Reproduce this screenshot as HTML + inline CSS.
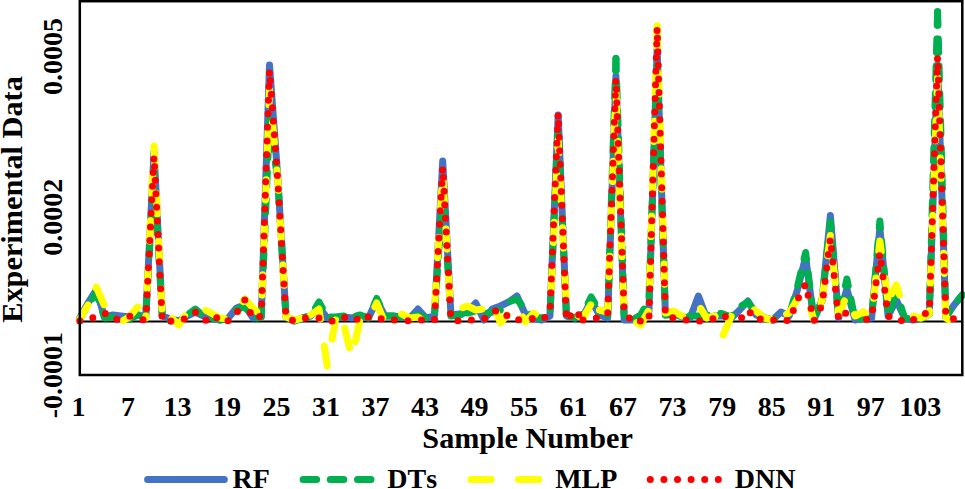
<!DOCTYPE html>
<html><head><meta charset="utf-8"><style>
html,body{margin:0;padding:0;background:#fff;}
svg{display:block;}
text{font-family:"Liberation Serif",serif;font-weight:bold;fill:#000;font-kerning:none;}
</style></head><body>
<svg width="965" height="489" viewBox="0 0 965 489">
<rect x="0" y="0" width="965" height="489" fill="#fff"/>
<line x1="79.8" y1="321.5" x2="962.3" y2="321.5" stroke="#000" stroke-width="2.2"/>
<polyline points="79.80,318.00 88.05,303.00 96.30,290.00 104.54,317.00 112.79,315.00 121.04,316.00 129.29,317.00 137.54,315.00 145.78,317.00 154.03,152.00 162.28,316.00 170.53,319.00 178.78,321.00 187.02,316.00 195.27,312.00 203.52,316.00 211.77,318.00 220.02,320.00 228.26,318.00 236.51,308.00 244.76,305.00 253.01,318.00 261.26,317.00 269.50,65.00 277.75,177.00 286.00,317.00 294.25,321.00 302.50,318.00 310.74,316.00 318.99,307.00 327.24,318.00 335.49,318.00 343.74,317.00 351.98,318.00 360.23,316.00 368.48,318.00 376.73,300.00 384.98,316.00 393.22,316.00 401.47,317.00 409.72,318.00 417.97,309.00 426.22,318.00 434.46,316.00 442.71,161.00 450.96,315.00 459.21,314.00 467.46,312.00 475.70,303.00 483.95,320.00 492.20,309.00 500.45,306.00 508.70,302.00 516.94,296.00 525.19,314.00 533.44,318.00 541.69,320.00 549.94,316.00 558.18,115.00 566.43,316.00 574.68,318.00 582.93,317.00 591.18,300.00 599.42,315.00 607.67,318.00 615.92,76.00 624.17,320.00 632.42,320.00 640.66,318.00 648.91,312.00 657.16,48.00 665.41,315.00 673.66,314.00 681.90,317.00 690.15,318.00 698.40,296.00 706.65,318.00 714.90,316.00 723.14,316.00 731.39,318.00 739.64,310.00 747.89,301.00 756.14,315.00 764.38,318.00 772.63,320.00 780.88,312.00 789.13,316.00 797.38,290.00 805.62,257.00 813.87,320.00 822.12,300.00 830.37,215.50 838.62,318.00 846.86,289.00 855.11,320.00 863.36,318.00 871.61,318.00 879.86,228.00 888.10,316.00 896.35,300.00 904.60,318.00 912.85,320.00 921.10,318.00 929.34,314.00 937.59,65.00 945.84,317.00 954.09,305.00 962.34,295.00" stroke="#4472C4" stroke-width="7" stroke-linecap="round" stroke-linejoin="round" fill="none"/>
<polyline points="79.80,319.00 88.05,305.00 96.30,293.00 104.54,318.00 112.79,317.00 121.04,317.00 129.29,319.00 137.54,315.00 145.78,316.00 154.03,170.00 162.28,316.00 170.53,321.00" stroke="#00B050" stroke-width="7" stroke-linecap="round" stroke-linejoin="round" fill="none" stroke-dasharray="13.5 13.7" stroke-dashoffset="3.14"/>
<polyline points="170.53,321.00 178.78,321.00 187.02,315.00 195.27,309.00 203.52,316.00 211.77,318.00 220.02,320.00 228.26,318.00 236.51,310.00 244.76,306.00 253.01,319.00" stroke="#00B050" stroke-width="7" stroke-linecap="round" stroke-linejoin="round" fill="none" stroke-dasharray="13.5 13.7" stroke-dashoffset="5.30"/>
<polyline points="253.01,319.00 261.26,317.00 269.50,120.00 277.75,180.00 286.00,317.00 294.25,321.00 302.50,318.00 310.74,316.00 318.99,302.00 327.24,317.00 335.49,317.00 343.74,316.00" stroke="#00B050" stroke-width="7" stroke-linecap="round" stroke-linejoin="round" fill="none" stroke-dasharray="13.5 13.7" stroke-dashoffset="23.00"/>
<polyline points="343.74,316.00 351.98,317.00 360.23,315.00 368.48,318.00 376.73,298.50 384.98,316.00 393.22,316.00 401.47,318.00 409.72,317.00 417.97,315.00 426.22,318.00 434.46,316.00 442.71,190.00 450.96,316.00 459.21,315.00 467.46,313.00" stroke="#00B050" stroke-width="7" stroke-linecap="round" stroke-linejoin="round" fill="none" stroke-dasharray="13.5 13.7" stroke-dashoffset="14.41"/>
<polyline points="467.46,313.00 475.70,311.00 483.95,314.00 492.20,312.00 500.45,310.00 508.70,302.00 516.94,299.00 525.19,310.00 533.44,317.00 541.69,318.00 549.94,316.00 558.18,128.00 566.43,315.00" stroke="#00B050" stroke-width="7" stroke-linecap="round" stroke-linejoin="round" fill="none" stroke-dasharray="13.5 13.7" stroke-dashoffset="6.65"/>
<polyline points="566.43,315.00 574.68,318.00 582.93,314.00 591.18,297.00 599.42,311.00" stroke="#00B050" stroke-width="7" stroke-linecap="round" stroke-linejoin="round" fill="none" stroke-dasharray="13.5 13.7" stroke-dashoffset="24.31"/>
<polyline points="599.42,311.00 607.67,318.00 615.92,58.50" stroke="#00B050" stroke-width="7" stroke-linecap="round" stroke-linejoin="round" fill="none" stroke-dasharray="13.5 13.7" stroke-dashoffset="13.45"/>
<polyline points="615.92,58.50 624.17,316.00 632.42,320.00" stroke="#00B050" stroke-width="7" stroke-linecap="round" stroke-linejoin="round" fill="none" stroke-dasharray="13.5 13.7" stroke-dashoffset="1.60"/>
<polyline points="632.42,320.00 640.66,315.00 648.91,300.00 657.16,60.00 665.41,315.00 673.66,314.00 681.90,317.00 690.15,316.00" stroke="#00B050" stroke-width="7" stroke-linecap="round" stroke-linejoin="round" fill="none" stroke-dasharray="13.5 13.7" stroke-dashoffset="24.30"/>
<polyline points="690.15,316.00 698.40,316.00 706.65,316.00 714.90,312.00 723.14,314.00 731.39,317.00 739.64,307.00 747.89,302.00 756.14,313.00 764.38,318.00 772.63,320.00 780.88,315.00" stroke="#00B050" stroke-width="7" stroke-linecap="round" stroke-linejoin="round" fill="none" stroke-dasharray="13.5 13.7" stroke-dashoffset="22.82"/>
<polyline points="780.88,315.00 789.13,316.00 797.38,287.00 805.62,252.50 813.87,320.00 822.12,300.00" stroke="#00B050" stroke-width="7" stroke-linecap="round" stroke-linejoin="round" fill="none" stroke-dasharray="13.5 13.7" stroke-dashoffset="14.42"/>
<polyline points="822.12,300.00 830.37,222.00 838.62,318.00 846.86,279.00 855.11,320.00 863.36,318.00" stroke="#00B050" stroke-width="7" stroke-linecap="round" stroke-linejoin="round" fill="none" stroke-dasharray="13.5 13.7" stroke-dashoffset="9.70"/>
<polyline points="863.36,318.00 871.61,318.00 879.86,221.00 888.10,316.00 896.35,292.00" stroke="#00B050" stroke-width="7" stroke-linecap="round" stroke-linejoin="round" fill="none" stroke-dasharray="13.5 13.7" stroke-dashoffset="9.95"/>
<polyline points="896.35,292.00 904.60,318.00 912.85,320.00 921.10,318.00 929.34,314.00 937.59,11.70" stroke="#00B050" stroke-width="7" stroke-linecap="round" stroke-linejoin="round" fill="none" stroke-dasharray="13.5 13.7" stroke-dashoffset="11.27"/>
<polyline points="937.59,11.70 945.84,317.00 954.09,305.00 962.34,295.00" stroke="#00B050" stroke-width="7" stroke-linecap="round" stroke-linejoin="round" fill="none" stroke-dasharray="13.5 13.7" stroke-dashoffset="0.00"/>
<polyline points="79.80,319.00 88.05,305.00" stroke="#FFFF00" stroke-width="7" stroke-linecap="round" stroke-linejoin="round" fill="none" stroke-dasharray="20.3 27.3" stroke-dashoffset="0.00"/>
<polyline points="88.05,305.00 96.30,287.00 104.54,306.00 112.79,316.00 121.04,322.00 129.29,317.00 137.54,307.00 145.78,318.00" stroke="#FFFF00" stroke-width="7" stroke-linecap="round" stroke-linejoin="round" fill="none" stroke-dasharray="20.3 27.3" stroke-dashoffset="28.80"/>
<polyline points="145.78,318.00 154.03,146.00 162.28,316.00" stroke="#FFFF00" stroke-width="7" stroke-linecap="round" stroke-linejoin="round" fill="none" stroke-dasharray="20.3 27.3" stroke-dashoffset="18.20"/>
<polyline points="162.28,316.00 170.53,317.00 178.78,325.00 187.02,312.00 195.27,316.00 203.52,309.00 211.77,313.50 220.02,318.00 228.26,319.00 236.51,312.00 244.76,299.00 253.01,308.00 261.26,316.00 269.50,90.00 277.75,180.00 286.00,317.00 294.25,320.00 302.50,318.00" stroke="#FFFF00" stroke-width="7" stroke-linecap="round" stroke-linejoin="round" fill="none" stroke-dasharray="20.3 27.3" stroke-dashoffset="37.30"/>
<polyline points="302.50,318.00 310.74,315.00 318.99,309.00 327.24,366.00 335.49,320.00" stroke="#FFFF00" stroke-width="7" stroke-linecap="round" stroke-linejoin="round" fill="none" stroke-dasharray="20.3 27.3" stroke-dashoffset="38.93"/>
<polyline points="335.49,320.00 343.74,324.00 351.98,358.00 360.23,318.00 368.48,320.50 376.73,303.00 384.98,323.00 393.22,313.00 401.47,314.00 409.72,318.00 417.97,317.00 426.22,323.00 434.46,310.00 442.71,172.00 450.96,318.00" stroke="#FFFF00" stroke-width="7" stroke-linecap="round" stroke-linejoin="round" fill="none" stroke-dasharray="20.3 27.3" stroke-dashoffset="34.23"/>
<polyline points="450.96,318.00 459.21,309.00 467.46,306.00 475.70,310.00 483.95,309.00 492.20,301.00 500.45,323.00 508.70,313.00 516.94,305.00 525.19,322.00 533.44,313.00 541.69,318.00 549.94,316.00" stroke="#FFFF00" stroke-width="7" stroke-linecap="round" stroke-linejoin="round" fill="none" stroke-dasharray="20.3 27.3" stroke-dashoffset="31.75"/>
<polyline points="549.94,316.00 558.18,140.00 566.43,309.00 574.68,314.00 582.93,318.00 591.18,304.00 599.42,310.00" stroke="#FFFF00" stroke-width="7" stroke-linecap="round" stroke-linejoin="round" fill="none" stroke-dasharray="20.3 27.3" stroke-dashoffset="21.59"/>
<polyline points="599.42,310.00 607.67,312.00 615.92,90.00 624.17,318.00 632.42,320.00 640.66,325.00 648.91,310.00 657.16,26.00" stroke="#FFFF00" stroke-width="7" stroke-linecap="round" stroke-linejoin="round" fill="none" stroke-dasharray="20.3 27.3" stroke-dashoffset="3.74"/>
<polyline points="657.16,26.00 665.41,313.00 673.66,311.00 681.90,316.00 690.15,318.00 698.40,305.00 706.65,318.00 714.90,316.00 723.14,335.00" stroke="#FFFF00" stroke-width="7" stroke-linecap="round" stroke-linejoin="round" fill="none" stroke-dasharray="20.3 27.3" stroke-dashoffset="0.00"/>
<polyline points="723.14,335.00 731.39,316.00 739.64,310.00 747.89,306.00 756.14,311.00 764.38,318.00 772.63,320.00 780.88,317.00" stroke="#FFFF00" stroke-width="7" stroke-linecap="round" stroke-linejoin="round" fill="none" stroke-dasharray="20.3 27.3" stroke-dashoffset="0.00"/>
<polyline points="780.88,317.00 789.13,313.00 797.38,299.00 805.62,292.00 813.87,320.00" stroke="#FFFF00" stroke-width="7" stroke-linecap="round" stroke-linejoin="round" fill="none" stroke-dasharray="20.3 27.3" stroke-dashoffset="41.18"/>
<polyline points="813.87,320.00 822.12,300.00 830.37,235.50 838.62,315.00 846.86,295.00 855.11,316.00 863.36,312.00" stroke="#FFFF00" stroke-width="7" stroke-linecap="round" stroke-linejoin="round" fill="none" stroke-dasharray="20.3 27.3" stroke-dashoffset="28.84"/>
<polyline points="863.36,312.00 871.61,318.00 879.86,241.00 888.10,301.00" stroke="#FFFF00" stroke-width="7" stroke-linecap="round" stroke-linejoin="round" fill="none" stroke-dasharray="20.3 27.3" stroke-dashoffset="17.56"/>
<polyline points="888.10,301.00 896.35,285.00 904.60,311.00 912.85,316.00 921.10,318.00 929.34,314.00 937.59,78.00 945.84,318.00 954.09,323.00 962.34,315.00" stroke="#FFFF00" stroke-width="7" stroke-linecap="round" stroke-linejoin="round" fill="none" stroke-dasharray="20.3 27.3" stroke-dashoffset="39.60"/>
<polyline points="79.80,321.00 88.05,320.00 96.30,316.00 104.54,313.00 112.79,319.50 121.04,319.00 129.29,316.00 137.54,318.00 145.78,320.50" stroke="#FF0000" stroke-width="7" stroke-linecap="round" stroke-linejoin="round" fill="none" stroke-dasharray="0 13.6" stroke-dashoffset="0.00"/>
<polyline points="145.78,320.50 154.03,156.00 162.28,321.00 170.53,321.00 178.78,321.00 187.02,318.00 195.27,312.00 203.52,320.00 211.77,321.00" stroke="#FF0000" stroke-width="7" stroke-linecap="round" stroke-linejoin="round" fill="none" stroke-dasharray="0 13.6" stroke-dashoffset="1.49"/>
<polyline points="211.77,321.00 220.02,315.50 228.26,321.00 236.51,313.00 244.76,300.00 253.01,318.50 261.26,316.00 269.50,70.00 277.75,180.00 286.00,318.00 294.25,321.00 302.50,318.00 310.74,318.00 318.99,318.00 327.24,321.00 335.49,321.00 343.74,317.00 351.98,321.00 360.23,318.00" stroke="#FF0000" stroke-width="7" stroke-linecap="round" stroke-linejoin="round" fill="none" stroke-dasharray="0 13.6" stroke-dashoffset="7.67"/>
<polyline points="360.23,318.00 368.48,317.00 376.73,316.50 384.98,320.50 393.22,320.00 401.47,320.00 409.72,321.00 417.97,320.00 426.22,320.00 434.46,320.00 442.71,167.00 450.96,320.00 459.21,321.00 467.46,321.00 475.70,319.00 483.95,319.00 492.20,315.00 500.45,305.00" stroke="#FF0000" stroke-width="7" stroke-linecap="round" stroke-linejoin="round" fill="none" stroke-dasharray="0 13.6" stroke-dashoffset="5.62"/>
<polyline points="500.45,305.00 508.70,318.50 516.94,320.00 525.19,319.00 533.44,318.50 541.69,320.00 549.94,313.00 558.18,113.00 566.43,321.00 574.68,310.00 582.93,320.00" stroke="#FF0000" stroke-width="7" stroke-linecap="round" stroke-linejoin="round" fill="none" stroke-dasharray="0 13.6" stroke-dashoffset="1.25"/>
<polyline points="582.93,320.00 591.18,318.00 599.42,318.00 607.67,314.00 615.92,78.60 624.17,313.00 632.42,321.00" stroke="#FF0000" stroke-width="7" stroke-linecap="round" stroke-linejoin="round" fill="none" stroke-dasharray="0 13.6" stroke-dashoffset="13.55"/>
<polyline points="632.42,321.00 640.66,321.00 648.91,321.00 657.16,27.50 665.41,316.00 673.66,318.00 681.90,319.00 690.15,321.00 698.40,321.00 706.65,321.00 714.90,318.00 723.14,315.00 731.39,320.00" stroke="#FF0000" stroke-width="7" stroke-linecap="round" stroke-linejoin="round" fill="none" stroke-dasharray="0 13.6" stroke-dashoffset="5.69"/>
<polyline points="731.39,320.00 739.64,320.00 747.89,310.00 756.14,320.00 764.38,318.00 772.63,320.00 780.88,319.00 789.13,321.00 797.38,300.00 805.62,284.00 813.87,321.00 822.12,305.00 830.37,238.00 838.62,320.00 846.86,312.00 855.11,320.00" stroke="#FF0000" stroke-width="7" stroke-linecap="round" stroke-linejoin="round" fill="none" stroke-dasharray="0 13.6" stroke-dashoffset="2.28"/>
<polyline points="855.11,320.00 863.36,320.00 871.61,318.00 879.86,252.70 888.10,316.00 896.35,321.00 904.60,320.00 912.85,320.00" stroke="#FF0000" stroke-width="7" stroke-linecap="round" stroke-linejoin="round" fill="none" stroke-dasharray="0 13.6" stroke-dashoffset="2.05"/>
<polyline points="912.85,320.00 921.10,314.00 929.34,313.00 937.59,55.80 945.84,317.00 954.09,319.00 962.34,318.00" stroke="#FF0000" stroke-width="7" stroke-linecap="round" stroke-linejoin="round" fill="none" stroke-dasharray="0 13.6" stroke-dashoffset="12.66"/>
<rect x="79.8" y="1.2" width="882.5" height="373.8" fill="none" stroke="#000" stroke-width="2.5"/>
<g font-size="28">
<text x="78.5" y="416" text-anchor="middle">1</text>
<text x="128.0" y="416" text-anchor="middle">7</text>
<text x="177.5" y="416" text-anchor="middle">13</text>
<text x="227.0" y="416" text-anchor="middle">19</text>
<text x="276.5" y="416" text-anchor="middle">25</text>
<text x="326.1" y="416" text-anchor="middle">31</text>
<text x="375.6" y="416" text-anchor="middle">37</text>
<text x="425.1" y="416" text-anchor="middle">43</text>
<text x="474.6" y="416" text-anchor="middle">49</text>
<text x="524.1" y="416" text-anchor="middle">55</text>
<text x="573.6" y="416" text-anchor="middle">61</text>
<text x="623.1" y="416" text-anchor="middle">67</text>
<text x="672.6" y="416" text-anchor="middle">73</text>
<text x="722.2" y="416" text-anchor="middle">79</text>
<text x="771.7" y="416" text-anchor="middle">85</text>
<text x="821.2" y="416" text-anchor="middle">91</text>
<text x="870.7" y="416" text-anchor="middle">97</text>
<text x="920.2" y="416" text-anchor="middle">103</text>
<text transform="translate(61.6,375.2) rotate(-90)" text-anchor="middle">-0.0001</text>
<text transform="translate(61.6,217.2) rotate(-90)" text-anchor="middle">0.0002</text>
<text transform="translate(61.6,56.4) rotate(-90)" text-anchor="middle">0.0005</text>
</g>
<text font-size="30.2" x="527.6" y="447.5" text-anchor="middle">Sample Number</text>
<text font-size="30.3" transform="translate(21.5,199.5) rotate(-90)" text-anchor="middle">Experimental Data</text>
<g font-size="28">
<line x1="147.6" y1="479.5" x2="224.3" y2="479.5" stroke="#4472C4" stroke-width="7" stroke-linecap="round"/>
<text x="232.5" y="487.5">RF</text>
<line x1="303.1" y1="479.5" x2="371.4" y2="479.5" stroke="#00B050" stroke-width="7" stroke-linecap="round" stroke-dasharray="13.5 13.7"/>
<text x="387.3" y="487.5">DTs</text>
<line x1="470.9" y1="479.5" x2="539" y2="479.5" stroke="#FFFF00" stroke-width="7" stroke-linecap="round" stroke-dasharray="20.3 27.3"/>
<text x="555.2" y="487.5">MLP</text>
<line x1="650.3" y1="479.5" x2="719" y2="479.5" stroke="#FF0000" stroke-width="7" stroke-linecap="round" stroke-dasharray="0 13.6"/>
<text x="734.8" y="487.5">DNN</text>
</g>
</svg>
</body></html>
